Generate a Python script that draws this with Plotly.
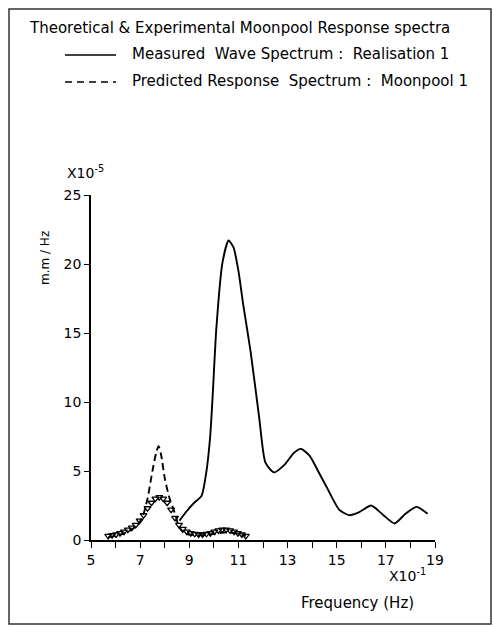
import plotly.graph_objects as go

# ---- data (frequency in units of 1e-1 Hz, spectral density in units of 1e-5) ----
measured_x = [8.6, 8.9, 9.2, 9.5, 9.7, 9.85, 9.95, 10.1, 10.35, 10.6, 10.8, 11.0, 11.2, 11.5,
              11.85, 12.1, 12.45, 12.9, 13.25, 13.55, 13.9, 14.3, 14.6, 15.1, 15.5, 15.9,
              16.4, 16.9, 17.35, 17.8, 18.25, 18.7]
measured_y = [1.4, 2.1, 2.7, 3.2, 5.0, 7.5, 10.4, 15.3, 20.1, 21.7, 21.2, 19.5, 17.0, 13.6,
              8.8, 5.6, 4.9, 5.5, 6.3, 6.6, 6.1, 4.8, 3.8, 2.2, 1.8, 2.0,
              2.5, 1.8, 1.2, 1.9, 2.4, 1.9]

predicted_x = [5.7, 6.0, 6.3, 6.6, 6.9, 7.1, 7.3, 7.5, 7.65, 7.75, 7.85, 8.0, 8.2, 8.4, 8.6,
               8.8, 9.0, 9.4, 9.8, 10.2, 10.6, 11.0, 11.3]
predicted_y = [0.2, 0.3, 0.45, 0.7, 1.1, 1.7, 3.0, 5.0, 6.3, 6.8, 6.2, 4.5, 3.0, 2.0, 0.9,
               0.5, 0.4, 0.35, 0.4, 0.5, 0.55, 0.45, 0.3]

marker_x = [5.70, 5.86, 6.02, 6.18, 6.34, 6.50, 6.66, 6.82, 6.98, 7.14, 7.30, 7.46, 7.62,
            7.78, 7.94, 8.10, 8.26, 8.42, 8.58, 8.74, 8.90, 9.06, 9.22, 9.38, 9.54, 9.70,
            9.86, 10.02, 10.18, 10.34, 10.50, 10.66, 10.82, 10.98, 11.14, 11.30]
marker_y = [0.3, 0.35, 0.4, 0.5, 0.6, 0.75, 0.9, 1.1, 1.4, 1.8, 2.3, 2.7, 3.0,
            3.1, 3.0, 2.7, 2.2, 1.6, 1.1, 0.8, 0.6, 0.5, 0.45, 0.4, 0.4, 0.45,
            0.5, 0.6, 0.7, 0.75, 0.75, 0.7, 0.6, 0.5, 0.4, 0.3]

x_tickvals = [5, 7, 9, 11, 13, 15, 17, 19]
y_tickvals = [0, 5, 10, 15, 20, 25]

title_text = "Theoretical & Experimental Moonpool Response spectra"
legend1_text = "Measured  Wave Spectrum :  Realisation 1"
legend2_text = "Predicted Response  Spectrum :  Moonpool 1"

FONT = "DejaVu Sans"

# plot area in pixels
L, R, T, B = 91, 435, 195, 540
W, H = 494, 627


def px(xp):
    return (xp - L) / (R - L)


def py(yp):
    return (B - yp) / (B - T)


fig = go.Figure()
fig.add_trace(go.Scatter(x=measured_x, y=measured_y, mode="lines",
                         line=dict(color="black", width=1.9, shape="spline", smoothing=0.6),
                         showlegend=False))
fig.add_trace(go.Scatter(x=predicted_x, y=predicted_y, mode="lines",
                         line=dict(color="black", width=1.9, dash="7px,4px", shape="spline", smoothing=0.8),
                         showlegend=False))
fig.add_trace(go.Scatter(x=marker_x, y=marker_y, mode="markers",
                         marker=dict(symbol="triangle-down-open", size=6, color="black",
                                     line=dict(width=1.3, color="black")),
                         showlegend=False))

shapes = [
    # outer frame
    dict(type="rect", xref="paper", yref="paper", x0=px(9), x1=px(491), y0=py(624), y1=py(9),
         line=dict(color="#333", width=1.5)),
    # legend samples
    dict(type="line", xref="paper", yref="paper", x0=px(65), x1=px(116), y0=py(55), y1=py(55),
         line=dict(color="black", width=1.6)),
    dict(type="line", xref="paper", yref="paper", x0=px(65), x1=px(116), y0=py(82), y1=py(82),
         line=dict(color="black", width=1.6, dash="7px,5px")),
]

annotations = [
    dict(text=title_text, x=px(27), y=py(28), xanchor="left", yanchor="middle", font=dict(size=15)),
    dict(text=legend1_text, x=px(130), y=py(54), xanchor="left", yanchor="middle", font=dict(size=15)),
    dict(text=legend2_text, x=px(130), y=py(81), xanchor="left", yanchor="middle", font=dict(size=15)),
    dict(text="X10<sup>-5</sup>", x=px(85), y=py(172), xanchor="center", yanchor="middle", font=dict(size=14)),
    dict(text="X10<sup>-1</sup>", x=px(407), y=py(575), xanchor="center", yanchor="middle", font=dict(size=14)),
    dict(text="Frequency (Hz)", x=px(357), y=py(603), xanchor="center", yanchor="middle", font=dict(size=15)),
    dict(text="m.m / Hz", x=px(45), y=py(258), xanchor="center", yanchor="middle", textangle=-90,
         font=dict(size=12)),
]
for a in annotations:
    a.update(xref="paper", yref="paper", showarrow=False)
    a["font"] = dict(family=FONT, color="black", **a["font"])

fig.update_layout(
    width=W, height=H,
    margin=dict(l=L, r=W - R, t=T, b=H - B),
    paper_bgcolor="white", plot_bgcolor="white",
    font=dict(family=FONT, size=14, color="black"),
    shapes=shapes, annotations=annotations,
    showlegend=False,
)
fig.update_xaxes(range=[5, 19], tickvals=x_tickvals, ticktext=[str(v) for v in x_tickvals],
                 ticks="outside", ticklen=6, tickwidth=1.4, tickcolor="black",
                 minor=dict(dtick=1, tick0=5, ticks="outside", ticklen=6, tickwidth=1.4, tickcolor="black"),
                 showline=True, linecolor="black", linewidth=1.6, showgrid=False, zeroline=False,
                 tickfont=dict(family=FONT, size=14, color="black"))
fig.update_yaxes(range=[0, 25], tickvals=y_tickvals, ticktext=[str(v) for v in y_tickvals],
                 ticks="outside", ticklen=5, tickwidth=1.4, tickcolor="black",
                 showline=True, linecolor="black", linewidth=1.6, showgrid=False, zeroline=False,
                 tickfont=dict(family=FONT, size=14, color="black"))

fig.write_html("out.html")
